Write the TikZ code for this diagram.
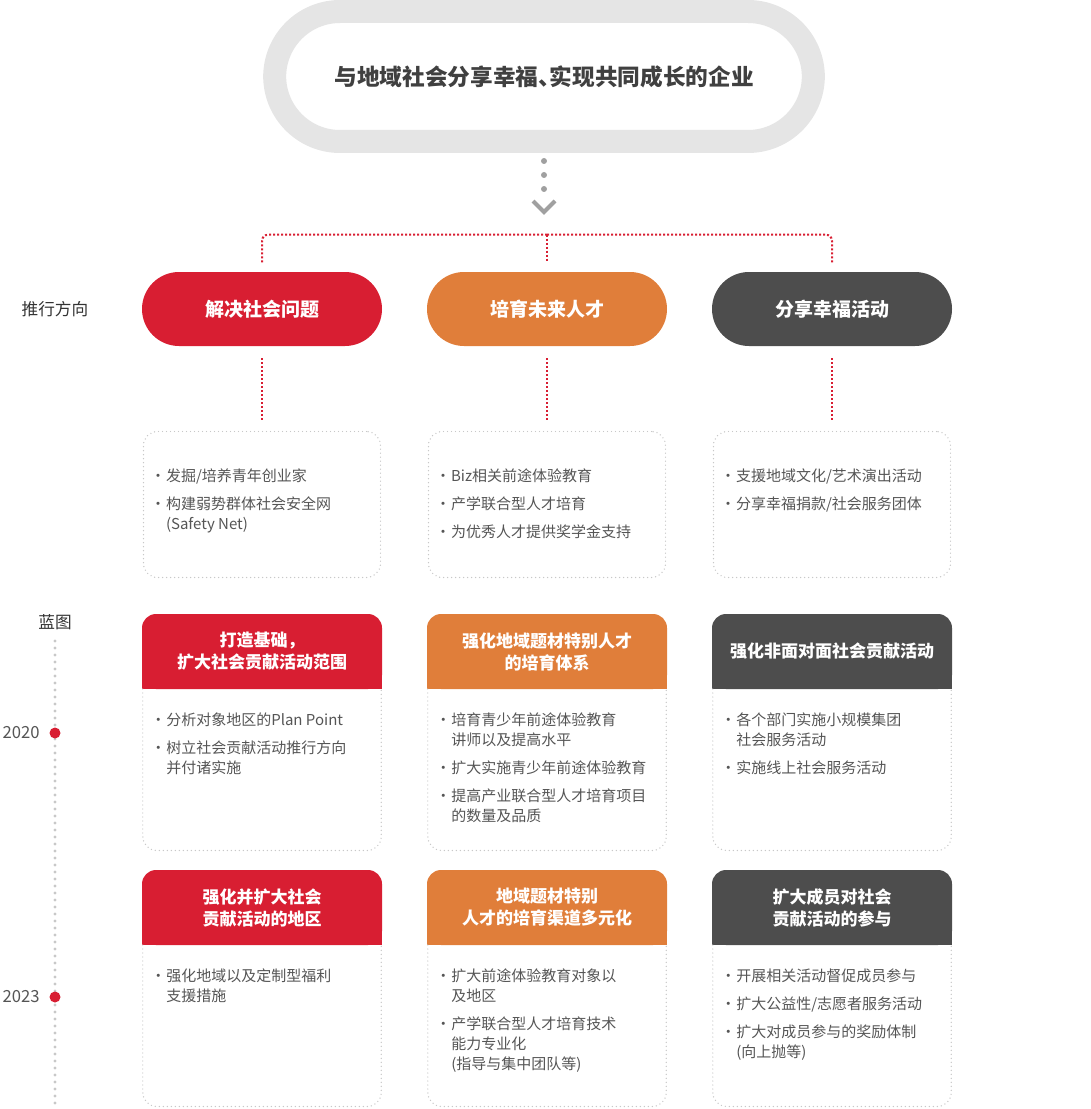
\documentclass[tikz,border=0pt]{standalone}
\usepackage{fontspec}
\setmainfont{Noto Sans CJK SC}
\usetikzlibrary{positioning,calc}
\definecolor{solred}{RGB}{216,30,50}
\definecolor{talorange}{RGB}{224,126,58}
\definecolor{hapgray}{RGB}{77,77,77}
\definecolor{ringgray}{RGB}{229,229,229}
\definecolor{dotgray}{RGB}{200,200,200}
\definecolor{stemgray}{RGB}{160,160,160}
\definecolor{titletext}{RGB}{64,64,64}
\definecolor{bodytext}{RGB}{85,85,85}
\definecolor{sidetext}{RGB}{51,51,51}

\newcommand{\bodybul}{\makebox[12pt][c]{·}}
\newcommand{\bodyind}{\hspace*{12pt}}
% card: name, header centre, colour, header text, body text
\newcommand{\plancard}[5]{%
  \coordinate (#1) at #2;
  \fill[#3, rounded corners=10.5pt] ($(#1)+(-120,-37.5)$) rectangle ($(#1)+(120,37.5)$);
  \fill[#3] ($(#1)+(-120,0)$) rectangle ($(#1)+(120,37.5)$);
  \node[cardhead] (#1h) at (#1) {#4};
  \draw[dotline, rounded corners=10.5pt] ($(#1)+(-119.25,37.5)$) |- ($(#1)+(0,199)$) -| ($(#1)+(119.25,37.5)$);
  \node[bodytxt] (#1t) at ($(#1)+(-112,61)$) {#5};
}

\begin{document}
\begin{tikzpicture}[x=0.75pt, y=-0.75pt,
    titlepill/.style={rectangle, draw=ringgray, line width=17.25pt, fill=white,
                      rounded corners=49pt, minimum width=404pt, minimum height=97.5pt,
                      text=titletext, font=\fontsize{17pt}{20pt}\selectfont\bfseries},
    pill/.style={rectangle, rounded corners=27.75pt, minimum width=180pt,
                 minimum height=55.5pt, text=white,
                 font=\fontsize{14.25pt}{17pt}\selectfont\bfseries},
    dotbox/.style={rectangle, draw=dotgray, line width=1.1pt, dash pattern=on 0pt off 3pt,
                   line cap=round, rounded corners=10.5pt,
                   minimum width=177.75pt, minimum height=109.5pt},
    dotline/.style={draw=dotgray, line width=1.1pt, dash pattern=on 0pt off 3pt, line cap=round},
    cardhead/.style={align=center, text=white,
                     font=\fontsize{12.75pt}{16.5pt}\selectfont\bfseries},
    bodytxt/.style={anchor=north west, inner sep=0pt, align=left, text=bodytext,
                    font=\fontsize{11.25pt}{15pt}\selectfont},
    sidelabel/.style={text=sidetext, font=\fontsize{12.5pt}{15pt}\selectfont},
    yearlabel/.style={text=bodytext, inner sep=0pt, font=\fontsize{12.5pt}{15pt}\selectfont},
    yeardot/.style={circle, fill=solred, inner sep=0pt, minimum size=8.25pt},
    redline/.style={draw=solred, line width=1.5pt, dash pattern=on 1.5pt off 1.5pt},
    timeline/.style={draw=dotgray, line width=2.4pt, dash pattern=on 0pt off 5.25pt, line cap=round},
    stemdots/.style={draw=stemgray, line width=4.5pt, dash pattern=on 0pt off 10.5pt, line cap=round},
    chevline/.style={draw=stemgray, line width=3pt},
]
    \useasboundingbox (0,0) rectangle (1090,1109);

    % Vision
    \node[titlepill] (title) at (544,76.5) {与地域社会分享幸福、\kern-0.5em 实现共同成长的企业};
    \coordinate (chev) at ($(title.south)+(0,59)$);
    \draw[stemdots] ($(title.south)+(0,8)$) -- ($(chev)+(0,-17)$);
    \draw[chevline] ($(chev)+(-11,-11)$) -- (chev) -- ($(chev)+(11,-11)$);

    % Directions
    \node[sidelabel] (dirlabel) at (55,309) {推行方向};
    \node[pill, fill=solred] (sol) at (262,309) {解决社会问题};
    \node[pill, fill=talorange] (tal) at (547,309) {培育未来人才};
    \node[pill, fill=hapgray] (hap) at (832,309) {分享幸福活动};

    \coordinate (fork) at ($(tal.north)+(0,-37)$);
    \draw[redline, rounded corners=4.5pt, shorten >=6.75pt] (fork) -| (sol.north);
    \draw[redline, rounded corners=4.5pt, shorten >=6.75pt] (fork) -| (hap.north);
    \draw[redline, shorten >=6.75pt] (fork) -- (tal.north);

    % Direction details
    \node[dotbox] (solbox) at (262,504.5) {};
    \node[dotbox] (talbox) at (547,504.5) {};
    \node[dotbox] (hapbox) at (832,504.5) {};
    \draw[redline, shorten <=9pt, shorten >=6.75pt] (sol) -- (solbox);
    \draw[redline, shorten <=9pt, shorten >=6.75pt] (tal) -- (talbox);
    \draw[redline, shorten <=9pt, shorten >=6.75pt] (hap) -- (hapbox);

    \node[bodytxt] (soltxt) at ([shift={(7,38)}]solbox.north west)
        {\bodybul 发掘/培养青年创业家\\[6pt]\bodybul 构建弱势群体社会安全网\\\bodyind(Safety Net)};
    \node[bodytxt] (taltxt) at ([shift={(7,38)}]talbox.north west)
        {\bodybul Biz相关前途体验教育\\[6pt]\bodybul 产学联合型人才培育\\[6pt]\bodybul 为优秀人才提供奖学金支持};
    \node[bodytxt] (haptxt) at ([shift={(7,38)}]hapbox.north west)
        {\bodybul 支援地域文化/艺术演出活动\\[6pt]\bodybul 分享幸福捐款/社会服务团体};

    % Blueprint timeline
    \node[sidelabel] (bplabel) at (55,622) {蓝图};
    \coordinate (tlend) at (55,1109);
    \draw[timeline, shorten <=5pt] (bplabel.south) -- (tlend);
    \node[yeardot] (y2020) at (55,733) {};
    \node[yeardot] (y2023) at (55,997) {};
    \node[yearlabel, left=7pt of y2020] (t2020) {2020};
    \node[yearlabel, left=7pt of y2023] (t2023) {2023};

    % 2020
    \plancard{bpA}{(262,651.5)}{solred}{打造基础，\\扩大社会贡献活动范围}
        {\bodybul 分析对象地区的Plan Point\\[6pt]\bodybul 树立社会贡献活动推行方向\\\bodyind 并付诸实施}
    \plancard{bpB}{(547,651.5)}{talorange}{强化地域题材特别人才\\的培育体系}
        {\bodybul 培育青少年前途体验教育\\\bodyind 讲师以及提高水平\\[6pt]\bodybul 扩大实施青少年前途体验教育\\[6pt]\bodybul 提高产业联合型人才培育项目\\\bodyind 的数量及品质}
    \plancard{bpC}{(832,651.5)}{hapgray}{强化非面对面社会贡献活动}
        {\bodybul 各个部门实施小规模集团\\\bodyind 社会服务活动\\[6pt]\bodybul 实施线上社会服务活动}

    % 2023
    \plancard{bpD}{(262,907.5)}{solred}{强化并扩大社会\\贡献活动的地区}
        {\bodybul 强化地域以及定制型福利\\\bodyind 支援措施}
    \plancard{bpE}{(547,907.5)}{talorange}{地域题材特别\\人才的培育渠道多元化}
        {\bodybul 扩大前途体验教育对象以\\\bodyind 及地区\\[6pt]\bodybul 产学联合型人才培育技术\\\bodyind 能力专业化\\\bodyind(指导与集中团队等)}
    \plancard{bpF}{(832,907.5)}{hapgray}{扩大成员对社会\\贡献活动的参与}
        {\bodybul 开展相关活动督促成员参与\\[6pt]\bodybul 扩大公益性/志愿者服务活动\\[6pt]\bodybul 扩大对成员参与的奖励体制\\\bodyind(向上抛等)}
\end{tikzpicture}
\end{document}
